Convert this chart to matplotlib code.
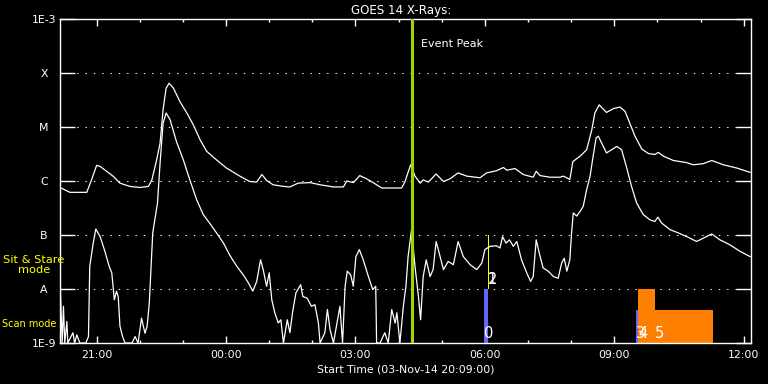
import numpy as np
import matplotlib
matplotlib.use("Agg")
import matplotlib.pyplot as plt
from matplotlib.ticker import FixedLocator, FuncFormatter

# time in hours from 03-Nov-14 00:00 (values > 24 are on 04-Nov)
# flux given as log10(W/m^2)
long_t = [20.15, 20.38, 20.77, 20.88, 21.00, 21.08, 21.23, 21.38, 21.54, 21.77,
          22.00, 22.20, 22.28, 22.39, 22.47, 22.54, 22.61, 22.68, 22.78, 22.93,
          23.09, 23.24, 23.40, 23.55, 23.78, 24.01, 24.32, 24.55, 24.71, 24.83,
          24.94, 25.09, 25.33, 25.48, 25.67, 25.95, 26.18, 26.49, 26.72, 26.80,
          26.95, 27.10, 27.26, 27.41, 27.61, 27.88, 28.07, 28.15, 28.19, 28.28,
          28.38, 28.50, 28.57, 28.69, 28.87, 29.04, 29.19, 29.38, 29.58, 29.89,
          30.04, 30.27, 30.43, 30.51, 30.70, 30.89, 31.12, 31.19, 31.28, 31.51,
          31.74, 31.82, 31.97, 32.04, 32.21, 32.36, 32.48, 32.55, 32.65, 32.82,
          32.98, 33.13, 33.25, 33.36, 33.48, 33.64, 33.79, 33.94, 34.02, 34.14,
          34.37, 34.68, 34.83, 35.06, 35.26, 35.53, 35.84, 36.15]
long_lg = [-6.12, -6.21, -6.21, -5.98, -5.71, -5.73, -5.82, -5.91, -6.04, -6.10,
           -6.12, -6.10, -5.98, -5.61, -5.30, -4.68, -4.28, -4.19, -4.28, -4.53,
           -4.74, -4.96, -5.24, -5.45, -5.61, -5.76, -5.91, -6.01, -6.02, -5.88,
           -5.99, -6.07, -6.10, -6.11, -6.04, -6.03, -6.07, -6.11, -6.11, -6.00,
           -6.03, -5.90, -5.96, -6.03, -6.13, -6.13, -6.13, -6.01, -5.91, -5.70,
           -5.91, -6.04, -5.98, -6.02, -5.87, -6.01, -5.96, -5.85, -5.91, -5.94,
           -5.85, -5.81, -5.75, -5.80, -5.77, -5.88, -5.93, -5.82, -5.90, -5.93,
           -5.93, -5.91, -5.97, -5.64, -5.54, -5.42, -5.05, -4.74, -4.59, -4.73,
           -4.66, -4.63, -4.71, -4.93, -5.17, -5.41, -5.49, -5.51, -5.47, -5.54,
           -5.62, -5.66, -5.70, -5.68, -5.62, -5.70, -5.76, -5.84]

short_t = [20.15, 20.20, 20.23, 20.26, 20.31, 20.33, 20.45, 20.49, 20.54, 20.61,
           20.75, 20.81, 20.84, 20.92, 20.98, 21.08, 21.19, 21.29, 21.35, 21.41,
           21.46, 21.50, 21.54, 21.60, 21.66, 21.82, 21.89, 21.96, 22.04, 22.12,
           22.17, 22.22, 22.30, 22.41, 22.47, 22.54, 22.61, 22.70, 22.85, 23.01,
           23.16, 23.32, 23.47, 23.70, 23.94, 24.09, 24.25, 24.40, 24.52, 24.62,
           24.71, 24.80, 24.86, 24.94, 25.00, 25.06, 25.13, 25.21, 25.27, 25.33,
           25.42, 25.48, 25.54, 25.62, 25.73, 25.78, 25.88, 25.98, 26.06, 26.14,
           26.18, 26.29, 26.35, 26.41, 26.49, 26.64, 26.70, 26.76, 26.81, 26.89,
           26.95, 27.01, 27.09, 27.18, 27.30, 27.40, 27.47, 27.49, 27.57, 27.68,
           27.76, 27.84, 27.92, 27.96, 28.03, 28.11, 28.17, 28.22, 28.30, 28.38,
           28.46, 28.51, 28.57, 28.64, 28.73, 28.80, 28.87, 28.94, 29.04, 29.15,
           29.27, 29.38, 29.50, 29.66, 29.81, 29.93, 30.00, 30.12, 30.27, 30.35,
           30.41, 30.49, 30.57, 30.66, 30.74, 30.85, 30.97, 31.06, 31.12, 31.19,
           31.26, 31.35, 31.47, 31.59, 31.70, 31.78, 31.84, 31.90, 31.97, 32.01,
           32.05, 32.13, 32.21, 32.28, 32.36, 32.44, 32.51, 32.58, 32.63, 32.71,
           32.82, 32.94, 33.06, 33.17, 33.29, 33.40, 33.52, 33.67, 33.83, 33.94,
           34.01, 34.10, 34.29, 34.48, 34.68, 34.91, 35.06, 35.26, 35.45, 35.68,
           35.91, 36.15]
short_lg = [-7.80, -9.00, -8.32, -9.00, -8.60, -9.00, -8.81, -9.00, -8.85, -9.00,
            -9.00, -8.88, -7.58, -7.15, -6.89, -7.03, -7.30, -7.58, -7.70, -8.20,
            -8.04, -8.14, -8.69, -8.88, -9.00, -9.00, -8.88, -9.00, -8.54, -8.82,
            -8.69, -8.26, -6.96, -6.41, -5.67, -4.93, -4.74, -4.86, -5.27, -5.61,
            -5.98, -6.35, -6.62, -6.87, -7.15, -7.38, -7.58, -7.74, -7.89, -8.04,
            -7.86, -7.46, -7.64, -7.95, -7.70, -8.20, -8.44, -8.63, -8.57, -9.00,
            -8.57, -8.81, -8.44, -8.07, -7.92, -8.14, -8.17, -8.32, -8.29, -8.63,
            -9.00, -8.81, -8.38, -8.75, -9.00, -8.32, -9.00, -7.95, -7.67, -7.74,
            -7.95, -7.40, -7.27, -7.46, -7.77, -8.01, -7.95, -9.00, -9.00, -8.81,
            -9.00, -8.38, -8.63, -8.44, -9.00, -8.32, -7.95, -7.40, -6.90, -7.58,
            -8.14, -8.57, -7.77, -7.46, -7.77, -7.64, -7.12, -7.33, -7.64, -7.49,
            -7.55, -7.12, -7.40, -7.55, -7.64, -7.52, -7.27, -7.21, -7.20, -7.24,
            -7.03, -7.15, -7.09, -7.21, -7.12, -7.46, -7.70, -7.86, -7.77, -7.09,
            -7.33, -7.61, -7.67, -7.77, -7.80, -7.52, -7.43, -7.67, -7.46, -6.96,
            -6.59, -6.65, -6.56, -6.47, -6.16, -5.91, -5.54, -5.20, -5.17, -5.30,
            -5.48, -5.42, -5.36, -5.42, -5.76, -6.10, -6.41, -6.62, -6.72, -6.75,
            -6.67, -6.78, -6.90, -6.96, -7.03, -7.12, -7.06, -6.98, -7.09, -7.18,
            -7.30, -7.40]

# observation timeline (IRIS modes)
obs_label = ["0", "1", "2", "3", "4", "5"]
obs_start = [29.99, 30.07, 30.08, 33.50, 33.56, 33.94]
obs_end = [30.07, 30.10, 30.10, 33.55, 33.94, 35.29]
obs_bottom = [-9.0, -8.0, -8.0, -9.0, -9.0, -9.0]
obs_top = [-8.0, -7.0, -7.0, -8.38, -8.0, -8.38]
obs_color = ["#6464ff", "#ffff00", "#ffff00", "#6464ff", "#ff8000", "#ff8000"]

event_peak = 28.30
t_min, t_max = 20.15, 36.17

y_levels = [-9, -8, -7, -6, -5, -4, -3]
y_names = ["1E-9", "A", "B", "C", "M", "X", "1E-3"]
x_major = [21, 24, 27, 30, 33, 36]

fig = plt.figure(figsize=(7.68, 3.84), dpi=100, facecolor="black")
ax = fig.add_axes([60 / 768, 41 / 384, 691 / 768, 324 / 384], facecolor="black")

ax.set_yscale("log")
ax.set_xlim(t_min, t_max)
ax.set_ylim(1e-9, 1e-3)

# gridlines at flare classes
for lv in y_levels[1:-1]:
    ax.axhline(10.0 ** lv, color="white", lw=0.75, dashes=(1.3, 6.7), zorder=1)

# observation bars
for lab, s, e, b, tp, c in zip(obs_label, obs_start, obs_end, obs_bottom, obs_top, obs_color):
    ax.fill_between([s, e], 10.0 ** b, 10.0 ** tp, color=c, lw=0, zorder=2)
for lab, s, b in zip(obs_label, obs_start, obs_bottom):
    ax.text(s, 10.0 ** (b + 0.1), lab, color="white", fontsize=10.5, ha="left", va="baseline", zorder=5)

ax.plot(long_t, 10.0 ** np.array(long_lg), color="white", lw=0.9, zorder=3)
ax.plot(short_t, 10.0 ** np.array(short_lg), color="white", lw=0.9, zorder=3)

ax.axvline(event_peak, color="#a4d400", lw=2.2, zorder=4)
ax.text(event_peak + 0.23, 10.0 ** -3.52, "Event Peak", color="white", fontsize=8, va="baseline")

for s in ax.spines.values():
    s.set_color("white")
    s.set_linewidth(1)

ax.yaxis.set_major_locator(FixedLocator([10.0 ** v for v in y_levels]))
ax.yaxis.set_minor_locator(FixedLocator([]))
ax.set_yticklabels(y_names)
ax.tick_params(axis="y", which="major", direction="in", length=11, width=1, color="white",
               labelcolor="white", labelsize=7.8, left=True, right=True, pad=11.5)
for lbl in ax.get_yticklabels():
    lbl.set_horizontalalignment("center")

ax.xaxis.set_major_locator(FixedLocator(x_major))
ax.xaxis.set_minor_locator(FixedLocator(list(range(21, 37))))
ax.xaxis.set_major_formatter(FuncFormatter(lambda v, p: f"{int(round(v)) % 24:02d}:00"))
ax.tick_params(axis="x", which="major", direction="in", length=5, width=1, color="white",
               labelcolor="white", labelsize=7.8, top=True, bottom=True, pad=5)
ax.tick_params(axis="x", which="minor", direction="in", length=2.5, width=1, color="white",
               top=True, bottom=True)

ax.set_xlabel("Start Time (03-Nov-14 20:09:00)", color="white", fontsize=7.8, labelpad=3)
fig.text(401 / 768, 1 - 14 / 384, "GOES 14 X-Rays:", color="white", fontsize=8.6,
         ha="center", va="baseline")

fig.text(34 / 768, 1 - 265 / 384, "Sit & Stare\nmode", color="yellow", fontsize=8.2,
         ha="center", va="center", linespacing=1.05)
fig.text(2 / 768, 1 - 324 / 384, "Scan mode", color="yellow", fontsize=7,
         ha="left", va="center")

fig.savefig("out.png", dpi=100, facecolor="black")
